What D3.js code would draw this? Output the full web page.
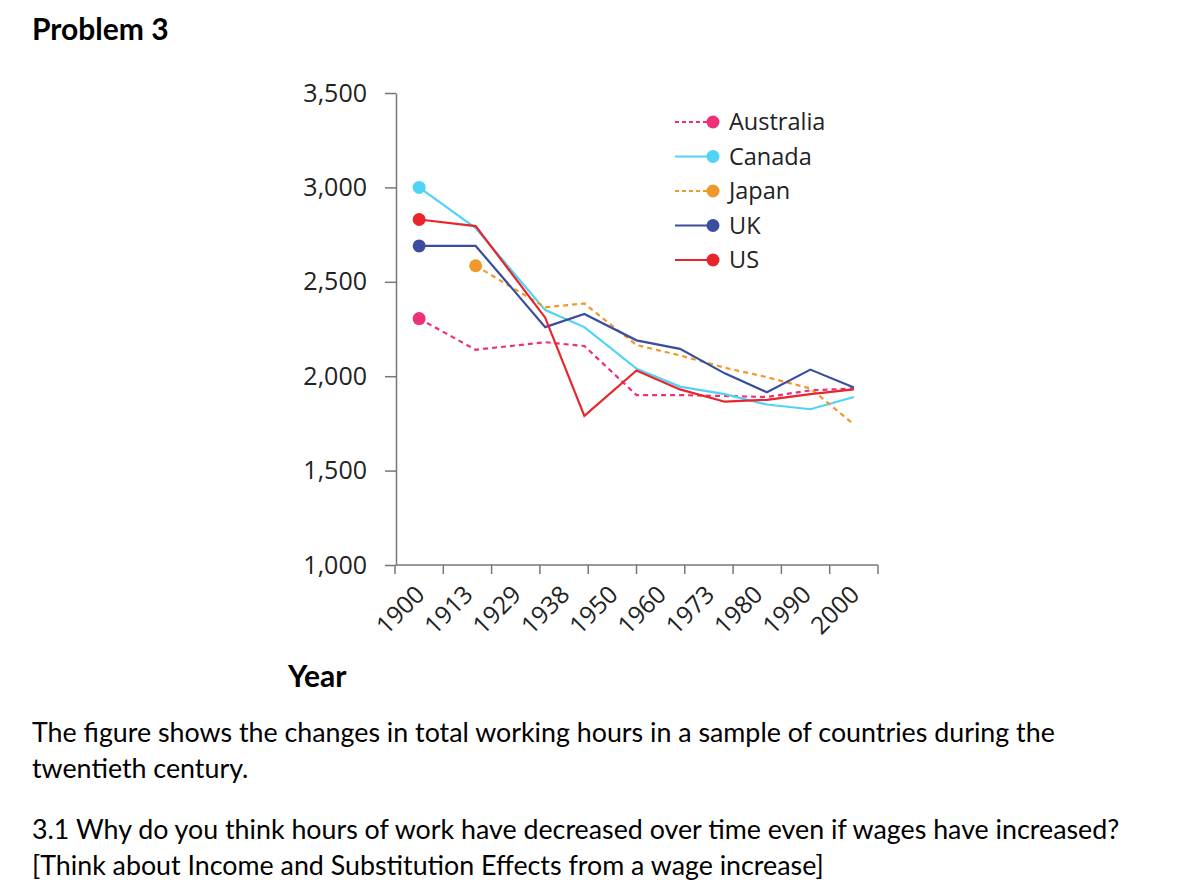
<!DOCTYPE html>
<html>
<head>
<meta charset="utf-8">
<script src="https://cdn.jsdelivr.net/npm/d3@7"></script>
<style>
  html, body { margin: 0; padding: 0; background: #fff; }
  svg { display: block; }
</style>
</head>
<body>
<svg id="chart" width="1200" height="892"></svg>
<script>
// ---------- data ----------
const yearLabels = ["1900", "1913", "1929", "1938", "1950", "1960", "1973", "1980", "1990", "2000"];
const pointYears = [1900, 1913, 1929, 1938, 1950, 1960, 1970.3, 1980, 1990, 2000];
const australia = [2305, 2140, 2180, 2160, 1900, 1900, 1895, 1890, 1925, 1935];
const canada    = [3000, 2785, 2350, 2260, 2040, 1945, 1905, 1850, 1825, 1890];
const japan     = [null, 2585, 2365, 2385, 2165, 2110, 2045, 1995, 1935, 1745];
const uk        = [2690, 2690, 2260, 2330, 2190, 2145, 2015, 1915, 2035, 1940];
const us        = [2830, 2795, 2310, 1790, 2030, 1930, 1865, 1875, 1905, 1930];
const yTicks = [1000, 1500, 2000, 2500, 3000, 3500];
const seriesNames = ["Australia", "Canada", "Japan", "UK", "US"];

const seriesList = [
  { name: "Australia", values: australia, color: "#ee3079", dash: "5,4" },
  { name: "Canada",    values: canada,    color: "#4fd3f7", dash: null },
  { name: "Japan",     values: japan,     color: "#f0982c", dash: "5,4" },
  { name: "UK",        values: uk,        color: "#3a4d9f", dash: null },
  { name: "US",        values: us,        color: "#e8252b", dash: null }
];

// ---------- layout ----------
const svg = d3.select("#chart");
svg.append("rect").attr("width", 1200).attr("height", 892).attr("fill", "#fff");

const axisLeftX = 396, axisTop = 93, axisBottom = 565, axisRight = 878;
const chartFont = "'Open Sans', sans-serif";
const docFont = "Lato, 'Open Sans', sans-serif";
const axisColor = "#777";
const textColor = "#222";

const y = d3.scaleLinear().domain([1000, 3500]).range([axisBottom, axisTop]);
const xBand = d3.scaleBand().domain(yearLabels).range([axisLeftX - 1, axisRight]).padding(0);
// linear year scale for data positions
const xYear = d3.scaleLinear().domain([1900, 2000])
  .range([xBand("1900") + xBand.bandwidth() / 2, xBand("2000") + xBand.bandwidth() / 2]);

// ---------- y axis ----------
const yAxis = d3.axisLeft(y).tickValues(yTicks).tickFormat(d3.format(","))
  .tickSize(11).tickSizeOuter(0).tickPadding(18);
const gy = svg.append("g").attr("transform", `translate(${axisLeftX},0)`).call(yAxis);
gy.select(".domain").attr("stroke", axisColor).attr("stroke-width", 1.5);
gy.selectAll(".tick line").attr("stroke", axisColor).attr("stroke-width", 1.5);
gy.selectAll(".tick text").attr("font-family", chartFont).attr("font-size", 25)
  .attr("fill", textColor);

// ---------- x axis ----------
const gx = svg.append("g");
gx.append("line").attr("x1", axisLeftX).attr("x2", axisRight)
  .attr("y1", axisBottom).attr("y2", axisBottom)
  .attr("stroke", axisColor).attr("stroke-width", 1.5);
const boundaries = yearLabels.map(d => xBand(d)).concat([xBand.range()[1]]);
gx.selectAll("line.xt").data(boundaries).enter().append("line")
  .attr("class", "xt")
  .attr("x1", d => d).attr("x2", d => d)
  .attr("y1", axisBottom).attr("y2", axisBottom + 9)
  .attr("stroke", axisColor).attr("stroke-width", 1.5);
gx.selectAll("text.xl").data(yearLabels).enter().append("text")
  .attr("class", "xl")
  .attr("transform", d => `translate(${xBand(d) + xBand.bandwidth() / 2 + 7},${axisBottom + 31}) rotate(-45)`)
  .attr("text-anchor", "end")
  .attr("font-family", chartFont).attr("font-size", 24.5).attr("fill", textColor)
  .text(d => d);

// ---------- lines ----------
const line = d3.line()
  .defined(d => d.v !== null)
  .x(d => xYear(d.yr))
  .y(d => y(d.v));

seriesList.forEach(s => {
  const pts = s.values.map((v, i) => ({ yr: pointYears[i], v: v }));
  svg.append("path").datum(pts)
    .attr("d", line)
    .attr("fill", "none")
    .attr("stroke", s.color)
    .attr("stroke-width", 2.2)
    .attr("stroke-linejoin", "miter")
    .attr("stroke-dasharray", s.dash);
  const first = pts.find(p => p.v !== null);
  svg.append("circle")
    .attr("cx", xYear(first.yr)).attr("cy", y(first.v)).attr("r", 6.5)
    .attr("fill", s.color);
});

// ---------- legend ----------
const legend = svg.append("g").attr("transform", "translate(675,122)");
seriesList.forEach((s, i) => {
  const g = legend.append("g").attr("transform", `translate(0,${i * 34.5})`);
  g.append("line").attr("x1", 0).attr("x2", 37).attr("y1", 0).attr("y2", 0)
    .attr("stroke", s.color).attr("stroke-width", 2)
    .attr("stroke-dasharray", s.dash ? "4,3" : null);
  g.append("circle").attr("cx", 38).attr("cy", 0).attr("r", 6.5).attr("fill", s.color);
  g.append("text").attr("x", 54).attr("y", 0).attr("dy", "0.36em")
    .attr("font-family", chartFont).attr("font-size", 23.5).attr("fill", textColor)
    .text(seriesNames[i]);
});

// ---------- document text ----------
svg.append("text").attr("x", 32).attr("y", 40)
  .attr("font-family", docFont).attr("font-weight", "bold").attr("font-size", 30)
  .attr("fill", "#000").text("Problem 3");
svg.append("text").attr("x", 288).attr("y", 687)
  .attr("font-family", docFont).attr("font-weight", "bold").attr("font-size", 30)
  .attr("fill", "#000").text("Year");

const para = [
  { t: "The figure shows the changes in total working hours in a sample of countries during the", y: 742 },
  { t: "twentieth century.", y: 778 },
  { t: "3.1 Why do you think hours of work have decreased over time even if wages have increased?", y: 839 },
  { t: "[Think about Income and Substitution Effects from a wage increase]", y: 875 }
];
svg.selectAll("text.para").data(para).enter().append("text")
  .attr("class", "para")
  .attr("x", 32).attr("y", d => d.y)
  .attr("font-family", docFont).attr("font-size", 26.8).attr("fill", "#000")
  .text(d => d.t);
</script>
</body>
</html>
